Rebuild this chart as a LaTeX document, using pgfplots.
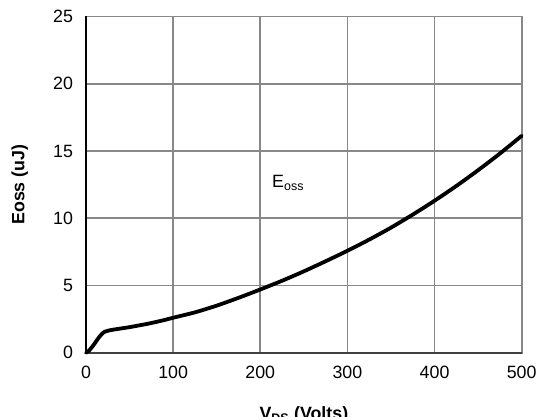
\documentclass[border=0pt]{standalone}
\usepackage{fontspec}
\setmainfont{Liberation Sans}
\usepackage{pgfplots}
\pgfplotsset{compat=1.18}
\definecolor{gridgray}{HTML}{888888}
\definecolor{botgray}{HTML}{404040}
\begin{document}
\begin{tikzpicture}
\path[use as bounding box] (-86bp,-64.3bp) rectangle (454bp,352.7bp);
\begin{axis}[
  at={(0,0)}, anchor=south west,
  scale only axis, width=435.7bp, height=336.2bp,
  xmin=0, xmax=500, ymin=0, ymax=25,
  xtick={0,100,...,500}, ytick={0,5,...,25},
  grid=major,
  grid style={line width=1.6bp, draw=gridgray},
  axis line style={line width=1.6bp, draw=gridgray},
  major tick length=0pt,
  tick style={draw=none},
  /pgf/number format/assume math mode=true,
  tick label style={font=\fontsize{17.8bp}{20bp}\selectfont},
  yticklabel style={xshift=-9.5bp},
  xticklabel style={yshift=-9.5bp},
  xlabel={\textbf{V\textsubscript{DS} (Volts)}},
  ylabel={\textbf{Eoss (uJ)}},
  label style={font=\fontsize{17.8bp}{20bp}\selectfont},
  xlabel style={at={(axis description cs:0.5,-0.198)}, anchor=base},
  ylabel style={at={(axis description cs:-0.152,0.5)}, anchor=center},
  clip=false,
]
\draw[line width=1.6bp, draw=botgray] (axis cs:0,0) -- (axis cs:500,0);
\draw[line width=2bp, draw=black] (axis cs:0,0) -- (axis cs:0,25);
\addplot[black, line width=3.8bp, line join=round, line cap=round, smooth, tension=0.4] coordinates {
(0,0) (3,0.12) (6,0.35) (9,0.6) (12,0.88) (15,1.15) (18,1.38) (20,1.5) (22,1.57) (25,1.63)
(30,1.7) (40,1.8) (50,1.9) (60,2.02) (70,2.14) (80,2.28) (90,2.43) (100,2.6)
(125,3.0) (150,3.5) (175,4.08) (200,4.7) (225,5.35) (250,6.05) (275,6.8) (300,7.58)
(325,8.41) (350,9.3) (375,10.27) (400,11.3) (425,12.4) (450,13.57) (475,14.81) (500,16.13)
};
\node[anchor=base west, inner sep=0pt, font=\fontsize{17.8bp}{20bp}\selectfont] at (axis cs:213.5,12.25) {E\textsubscript{oss}};
\end{axis}
\end{tikzpicture}
\end{document}
